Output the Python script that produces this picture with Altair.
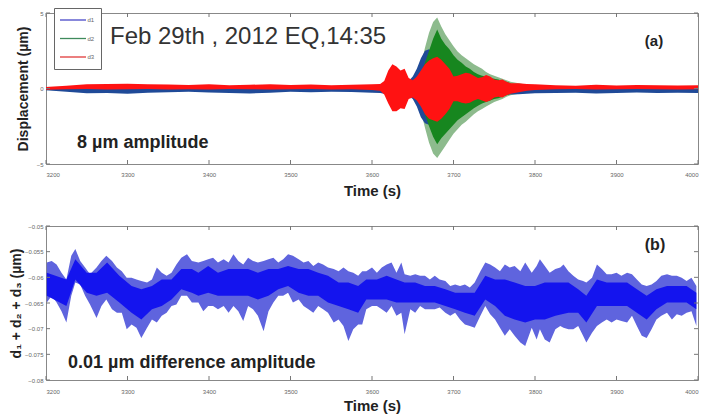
import altair as alt
import pandas as pd

# ---------------- panel (a): envelopes of the three displacement sensors (µm) ----------------
top_t = [3200, 3225, 3250, 3275, 3300, 3325, 3350, 3375, 3400, 3425, 3450, 3475, 3500, 3525,
         3550, 3575, 3600, 3610, 3615,
         3620, 3625, 3630, 3635, 3640, 3645, 3650, 3655, 3660, 3665, 3670, 3675, 3680, 3685,
         3690, 3695, 3700, 3705, 3710, 3715, 3720, 3725, 3730, 3735, 3740, 3745, 3750, 3755,
         3760, 3765, 3770, 3780, 3790, 3800,
         3825, 3850, 3875, 3900, 3925, 3950, 3975, 4000]

d1_hi = [0.08, 0.06, 0.10, 0.08, 0.10, 0.06, 0.08, 0.05, 0.08, 0.06, 0.10, 0.08, 0.06, 0.08,
         0.06, 0.08, 0.15, 0.20, 0.20,
         0.4, 0.5, 0.5, 0.4, 0.4, 0.5, 0.8, 1.3, 2.0, 2.5, 2.6, 2.4, 2.2, 1.9,
         1.6, 1.4, 1.2, 1.1, 1.0, 0.9, 0.8, 0.7, 0.65, 0.6, 0.55, 0.5, 0.45, 0.4,
         0.35, 0.3, 0.3, 0.2, 0.15, 0.12,
         0.10, 0.08, 0.10, 0.06, 0.10, 0.08, 0.10, 0.08]
d1_lo = [-0.12, -0.22, -0.32, -0.30, -0.34, -0.28, -0.25, -0.22, -0.26, -0.30, -0.33, -0.28, -0.22, -0.25,
         -0.22, -0.24, -0.28, -0.30, -0.35,
         -0.4, -0.6, -0.6, -0.5, -0.5, -0.5, -0.7, -1.2, -1.9, -2.3, -2.4, -2.3, -2.1, -1.9,
         -1.7, -1.5, -1.3, -1.1, -1.0, -0.9, -0.85, -0.75, -0.7, -0.65, -0.6, -0.55, -0.5, -0.45,
         -0.45, -0.4, -0.4, -0.38, -0.35, -0.32,
         -0.30, -0.28, -0.33, -0.30, -0.26, -0.30, -0.28, -0.30]

d2_hi = [0.10, 0.12, 0.14, 0.12, 0.15, 0.12, 0.13, 0.10, 0.12, 0.14, 0.12, 0.10, 0.12, 0.14,
         0.12, 0.12, 0.15, 0.20, 0.22,
         0.3, 0.35, 0.35, 0.3, 0.35, 0.4, 0.5, 0.8, 1.5, 2.7, 3.7, 4.4, 4.7, 4.1,
         3.6, 3.2, 2.8, 2.45, 2.2, 2.0, 1.8, 1.6, 1.45, 1.3, 1.1, 0.95, 0.85, 0.75,
         0.65, 0.55, 0.45, 0.35, 0.25, 0.2,
         0.12, 0.14, 0.12, 0.15, 0.12, 0.13, 0.12, 0.14]
d2_lo = [-0.10, -0.14, -0.15, -0.12, -0.15, -0.14, -0.12, -0.12, -0.14, -0.12, -0.14, -0.12, -0.12, -0.14,
         -0.12, -0.14, -0.15, -0.20, -0.22,
         -0.3, -0.35, -0.35, -0.3, -0.35, -0.4, -0.5, -0.8, -1.5, -2.6, -3.6, -4.3, -4.6, -4.2,
         -3.8, -3.4, -3.0, -2.7, -2.4, -2.2, -1.95, -1.7, -1.5, -1.35, -1.2, -1.05, -0.9, -0.8,
         -0.7, -0.55, -0.45, -0.35, -0.25, -0.2,
         -0.14, -0.12, -0.15, -0.12, -0.14, -0.12, -0.15, -0.12]

# dense (dark) part of the d2 trace during the event
d2_core_t = [3655, 3660, 3665, 3670, 3675, 3680, 3685, 3690, 3695, 3700, 3705, 3710, 3715,
             3720, 3725, 3730, 3735, 3740, 3745, 3750, 3755, 3760, 3765, 3770]
d2_core_hi = [0.5, 1.0, 1.7, 2.5, 3.3, 3.9, 3.3, 2.9, 2.6, 2.2, 1.9, 1.7, 1.45,
              1.3, 1.1, 0.95, 0.85, 0.8, 0.7, 0.65, 0.6, 0.5, 0.45, 0.35]
d2_core_lo = [-0.5, -1.0, -1.7, -2.5, -3.2, -3.7, -3.3, -3.0, -2.7, -2.4, -2.1, -1.9, -1.7,
              -1.5, -1.3, -1.15, -1.0, -0.9, -0.8, -0.7, -0.65, -0.55, -0.45, -0.35]

d3_hi = [0.10, 0.18, 0.28, 0.30, 0.32, 0.28, 0.26, 0.24, 0.28, 0.22, 0.25, 0.28, 0.24, 0.26,
         0.22, 0.25, 0.28, 0.30, 0.50,
         1.2, 1.6, 1.45, 1.2, 1.3, 0.7, 0.55, 0.8, 1.2, 1.6, 1.85, 2.0, 2.1, 1.9,
         1.6, 1.3, 0.8, 0.85, 0.95, 1.05, 1.0, 0.85, 0.7, 0.75, 0.9, 0.8, 0.6, 0.55,
         0.6, 0.45, 0.35, 0.35, 0.30, 0.28,
         0.22, 0.18, 0.25, 0.20, 0.24, 0.22, 0.20, 0.22]
d3_lo = [-0.08, -0.05, -0.04, -0.06, -0.05, -0.04, -0.06, -0.05, -0.06, -0.04, -0.05, -0.06, -0.05, -0.04,
         -0.06, -0.05, -0.10, -0.15, -0.40,
         -1.0, -1.5, -1.5, -1.3, -1.35, -0.7, -0.6, -0.8, -1.2, -1.7, -2.0, -2.1, -2.2, -2.0,
         -1.7, -1.35, -0.85, -0.85, -0.95, -1.0, -0.95, -0.8, -0.7, -0.8, -0.9, -0.8, -0.6, -0.55,
         -0.6, -0.45, -0.35, -0.25, -0.15, -0.10,
         -0.05, -0.04, -0.06, -0.05, -0.04, -0.05, -0.06, -0.05]

# ---------------- panel (b): d1 + d2 + d3 (µm), envelope of the sum ----------------
sum_t = [3201, 3207, 3213, 3219, 3225, 3231, 3236, 3242, 3248, 3254, 3262, 3268, 3274, 3281,
         3287, 3293, 3299, 3305, 3311, 3317, 3324, 3330, 3336, 3342, 3348, 3354, 3360, 3366,
         3373, 3379, 3387, 3393, 3399, 3405, 3411, 3418, 3424, 3430, 3436, 3442, 3448, 3454,
         3460, 3467, 3473, 3479, 3485, 3491, 3497, 3503, 3510, 3516, 3522, 3528, 3534, 3540,
         3546, 3553, 3559, 3565, 3571, 3577, 3583, 3588, 3593, 3600, 3606, 3612, 3618, 3624,
         3630, 3636, 3640, 3647, 3653, 3659, 3665, 3671, 3677, 3683, 3690, 3696, 3702, 3708,
         3714, 3720, 3726, 3733, 3739, 3745, 3751, 3757, 3763, 3769, 3775, 3782, 3788, 3796,
         3802, 3806, 3812, 3818, 3825, 3831, 3835, 3841, 3847, 3853, 3859, 3863, 3870, 3876,
         3882, 3888, 3894, 3900, 3906, 3913, 3919, 3925, 3931, 3937, 3943, 3949, 3955, 3962,
         3968, 3974, 3980, 3986, 3992, 3998]
sum_hi = [-0.0571, -0.0568, -0.0575, -0.0591, -0.0604, -0.0558, -0.0545, -0.0568, -0.0581, -0.0594,
          -0.0581, -0.0568, -0.0558, -0.0568, -0.0581, -0.0588, -0.0601, -0.0601, -0.0604, -0.0607,
          -0.0610, -0.0604, -0.0581, -0.0591, -0.0597, -0.0591, -0.0575, -0.0562, -0.0555, -0.0568,
          -0.0571, -0.0568, -0.0565, -0.0562, -0.0571, -0.0565, -0.0571, -0.0555, -0.0568, -0.0575,
          -0.0562, -0.0568, -0.0571, -0.0568, -0.0565, -0.0562, -0.0571, -0.0565, -0.0555, -0.0558,
          -0.0565, -0.0571, -0.0568, -0.0578, -0.0571, -0.0575, -0.0581, -0.0584, -0.0588, -0.0581,
          -0.0588, -0.0591, -0.0597, -0.0588, -0.0588, -0.0581, -0.0591, -0.0581, -0.0575, -0.0571,
          -0.0591, -0.0571, -0.0594, -0.0597, -0.0594, -0.0597, -0.0597, -0.0604, -0.0597, -0.0604,
          -0.0607, -0.0617, -0.0614, -0.0617, -0.0614, -0.0620, -0.0610, -0.0588, -0.0571, -0.0575,
          -0.0581, -0.0588, -0.0575, -0.0581, -0.0578, -0.0588, -0.0571, -0.0591, -0.0578, -0.0565,
          -0.0578, -0.0591, -0.0584, -0.0581, -0.0575, -0.0588, -0.0597, -0.0604, -0.0607, -0.0610,
          -0.0601, -0.0575, -0.0584, -0.0594, -0.0594, -0.0591, -0.0597, -0.0591, -0.0594, -0.0604,
          -0.0614, -0.0617, -0.0614, -0.0607, -0.0597, -0.0594, -0.0597, -0.0597, -0.0601, -0.0607,
          -0.0601, -0.0617]
sum_lo = [-0.0649, -0.0636, -0.0649, -0.0666, -0.0688, -0.0636, -0.0610, -0.0614, -0.0636, -0.0653,
          -0.0679, -0.0656, -0.0643, -0.0662, -0.0669, -0.0669, -0.0701, -0.0692, -0.0698, -0.0718,
          -0.0698, -0.0682, -0.0688, -0.0675, -0.0669, -0.0656, -0.0653, -0.0636, -0.0636, -0.0649,
          -0.0649, -0.0666, -0.0656, -0.0656, -0.0662, -0.0656, -0.0669, -0.0656, -0.0666, -0.0685,
          -0.0656, -0.0662, -0.0675, -0.0705, -0.0666, -0.0649, -0.0636, -0.0636, -0.0630, -0.0649,
          -0.0643, -0.0656, -0.0662, -0.0669, -0.0656, -0.0662, -0.0669, -0.0688, -0.0682, -0.0695,
          -0.0724, -0.0701, -0.0692, -0.0692, -0.0662, -0.0656, -0.0656, -0.0662, -0.0669, -0.0656,
          -0.0675, -0.0669, -0.0711, -0.0662, -0.0669, -0.0656, -0.0662, -0.0662, -0.0662, -0.0659,
          -0.0669, -0.0675, -0.0669, -0.0682, -0.0692, -0.0695, -0.0698, -0.0675, -0.0656, -0.0672,
          -0.0682, -0.0698, -0.0714, -0.0701, -0.0714, -0.0727, -0.0734, -0.0698, -0.0721, -0.0701,
          -0.0721, -0.0727, -0.0701, -0.0695, -0.0698, -0.0701, -0.0701, -0.0695, -0.0714, -0.0727,
          -0.0708, -0.0695, -0.0688, -0.0682, -0.0688, -0.0682, -0.0685, -0.0688, -0.0675, -0.0695,
          -0.0714, -0.0718, -0.0701, -0.0682, -0.0675, -0.0669, -0.0682, -0.0672, -0.0675, -0.0669,
          -0.0666, -0.0695]

# dense (dark) part of the summed trace
core_t = [3201, 3225, 3236, 3250, 3262, 3275, 3290, 3305, 3317, 3330, 3342, 3354, 3366, 3379,
          3387, 3399, 3411, 3424, 3436, 3448, 3460, 3473, 3485, 3497, 3510, 3522, 3534, 3546,
          3559, 3571, 3583, 3593, 3606, 3618, 3630, 3640, 3653, 3665, 3677, 3690, 3702, 3714,
          3726, 3739, 3751, 3763, 3775, 3788, 3800, 3812, 3825, 3841, 3853, 3863, 3876, 3888,
          3900, 3913, 3925, 3937, 3949, 3962, 3974, 3986, 3998]
core_hi = [-0.0591, -0.0604, -0.0565, -0.0591, -0.0591, -0.0571, -0.0597, -0.0617, -0.0623, -0.0617,
           -0.0604, -0.0604, -0.0584, -0.0584, -0.0591, -0.0578, -0.0591, -0.0584, -0.0584, -0.0584,
           -0.0591, -0.0584, -0.0584, -0.0578, -0.0584, -0.0584, -0.0591, -0.0597, -0.0610, -0.0610,
           -0.0617, -0.0604, -0.0604, -0.0597, -0.0604, -0.0610, -0.0610, -0.0617, -0.0617, -0.0623,
           -0.0630, -0.0630, -0.0630, -0.0597, -0.0604, -0.0604, -0.0610, -0.0617, -0.0617, -0.0610,
           -0.0610, -0.0610, -0.0623, -0.0636, -0.0604, -0.0610, -0.0610, -0.0610, -0.0623, -0.0636,
           -0.0623, -0.0617, -0.0617, -0.0617, -0.0630]
core_lo = [-0.0636, -0.0656, -0.0604, -0.0630, -0.0636, -0.0630, -0.0649, -0.0669, -0.0682, -0.0662,
           -0.0656, -0.0643, -0.0623, -0.0630, -0.0636, -0.0630, -0.0636, -0.0636, -0.0636, -0.0636,
           -0.0643, -0.0636, -0.0623, -0.0617, -0.0630, -0.0636, -0.0636, -0.0649, -0.0656, -0.0662,
           -0.0669, -0.0643, -0.0643, -0.0643, -0.0649, -0.0649, -0.0649, -0.0649, -0.0649, -0.0656,
           -0.0662, -0.0669, -0.0675, -0.0643, -0.0656, -0.0675, -0.0682, -0.0688, -0.0682, -0.0682,
           -0.0675, -0.0669, -0.0669, -0.0688, -0.0656, -0.0656, -0.0656, -0.0656, -0.0669, -0.0682,
           -0.0662, -0.0649, -0.0649, -0.0649, -0.0662]

# axis ticks
x_ticks = [3200, 3300, 3400, 3500, 3600, 3700, 3800, 3900, 4000]
top_y_ticks = [-5, 0, 5]
bot_y_ticks = [-0.08, -0.075, -0.07, -0.065, -0.06, -0.055, -0.05]

series = ["d1", "d2", "d3"]
series_colors = ["#4848c8", "#3f8a5c", "#e03a3a"]

W, H1, H2 = 652, 151, 154
FONT = "Liberation Sans"

x_scale = alt.Scale(domain=[3200, 4000], nice=False, zero=False)
ya_scale = alt.Scale(domain=[-5, 5], nice=False, zero=False)
yb_scale = alt.Scale(domain=[-0.08, -0.05], nice=False, zero=False)


def x_axis(title_y, label_pad):
    return alt.Axis(values=x_ticks, format="d", title="Time (s)", grid=False, ticks=False,
                    domain=False, labelFontSize=6, labelColor="#666", labelPadding=label_pad,
                    labelFont=FONT, titleFont=FONT, titleFontSize=15, titleFontWeight="bold",
                    titleColor="#222", titleY=title_y, titleBaseline="middle")


def y_axis(values, fmt, title, title_x):
    return alt.Axis(values=values, format=fmt, title=title, grid=False, ticks=False,
                    domain=False, labelFontSize=6, labelColor="#666", labelPadding=3,
                    labelFont=FONT, titleFont=FONT, titleFontSize=14, titleFontWeight="bold",
                    titleColor="#222", titleX=title_x, titleBaseline="middle", titleAngle=270)


xa = x_axis(26, 7)
xb = x_axis(25, 8)
ya = y_axis(top_y_ticks, "d", "Displacement (µm)", -23)
yb = y_axis(bot_y_ticks, ".3~f", "d₁ + d₂ + d₃ (µm)", -30)


def band(t, hi, lo, color, x_ax, y_ax, y_sc, opacity=1.0):
    df = pd.DataFrame({"t": t, "hi": hi, "lo": lo})
    return alt.Chart(df).mark_area(color=color, opacity=opacity, strokeWidth=0).encode(
        x=alt.X("t:Q", scale=x_scale, axis=x_ax),
        y=alt.Y("hi:Q", scale=y_sc, axis=y_ax),
        y2="lo:Q",
    )


def frame_ticks(h, y_ticks, y_sc, x_ax, y_ax):
    xt = pd.DataFrame({"t": x_ticks})
    yt = pd.DataFrame({"v": y_ticks})
    style = dict(color="#777", strokeWidth=1)
    xe = alt.X("t:Q", scale=x_scale, axis=x_ax)
    ye = alt.Y("v:Q", scale=y_sc, axis=y_ax)
    return [
        alt.Chart(xt).mark_rule(**style).encode(x=xe, y=alt.value(0), y2=alt.value(4)),
        alt.Chart(xt).mark_rule(**style).encode(x=xe, y=alt.value(h - 4), y2=alt.value(h)),
        alt.Chart(yt).mark_rule(**style).encode(y=ye, x=alt.value(0), x2=alt.value(4)),
        alt.Chart(yt).mark_rule(**style).encode(y=ye, x=alt.value(W - 4), x2=alt.value(W)),
    ]


def label(text, x, y, size, weight="normal", align="left", color="#222"):
    return alt.Chart(pd.DataFrame({"s": [text]})).mark_text(
        font=FONT, fontSize=size, fontWeight=weight, align=align, baseline="alphabetic",
        color=color,
    ).encode(x=alt.value(x), y=alt.value(y), text="s:N")


# ---- legend of panel (a)
legend_layers = [
    alt.Chart(pd.DataFrame({"s": ["box"]})).mark_rect(
        fill="white", stroke="#666", strokeWidth=1
    ).encode(x=alt.value(8.5), x2=alt.value(55.5), y=alt.value(-4.5), y2=alt.value(56.5))
]
for i, (name, col) in enumerate(zip(series, series_colors)):
    yy = 7 + i * 18.5
    legend_layers.append(
        alt.Chart(pd.DataFrame({"s": [name]})).mark_rule(color=col, strokeWidth=1.3).encode(
            x=alt.value(14), x2=alt.value(40), y=alt.value(yy))
    )
    legend_layers.append(
        alt.Chart(pd.DataFrame({"s": [name]})).mark_text(
            font=FONT, fontSize=6, color="#666", align="left", baseline="middle"
        ).encode(x=alt.value(41.5), y=alt.value(yy), text="s:N")
    )

panel_a = alt.layer(
    band(top_t, d2_hi, d2_lo, "#8dbb8d", xa, ya, ya_scale),
    band(top_t, d1_hi, d1_lo, "#1f4a98", xa, ya, ya_scale),
    band(d2_core_t, d2_core_hi, d2_core_lo, "#17861f", xa, ya, ya_scale),
    band(top_t, d3_hi, d3_lo, "#ff1212", xa, ya, ya_scale),
    *frame_ticks(H1, top_y_ticks, ya_scale, xa, ya),
    *legend_layers,
    label("Feb 29th , 2012 EQ,14:35", 64, 31, 24, color="#333"),
    label("(a)", 608, 33, 15, weight="bold", align="center"),
    label("8 µm amplitude", 31, 135, 18, weight="bold"),
).properties(width=W, height=H1)

panel_b = alt.layer(
    band(sum_t, sum_hi, sum_lo, "#5f64de", xb, yb, yb_scale),
    band(core_t, core_hi, core_lo, "#1414ee", xb, yb, yb_scale),
    *frame_ticks(H2, bot_y_ticks, yb_scale, xb, yb),
    label("0.01 µm difference amplitude", 22, 142, 18, weight="bold"),
    label("(b)", 609, 24, 16, weight="bold", align="center"),
).properties(width=W, height=H2)

chart = alt.vconcat(panel_a, panel_b, spacing=62, bounds="flush").properties(
    padding={"left": 8, "top": 7, "right": 5, "bottom": 0},
    background="white",
).configure_view(stroke="#888", strokeWidth=1)

chart.save("out.html", embed_options={"renderer": "svg", "actions": False})
